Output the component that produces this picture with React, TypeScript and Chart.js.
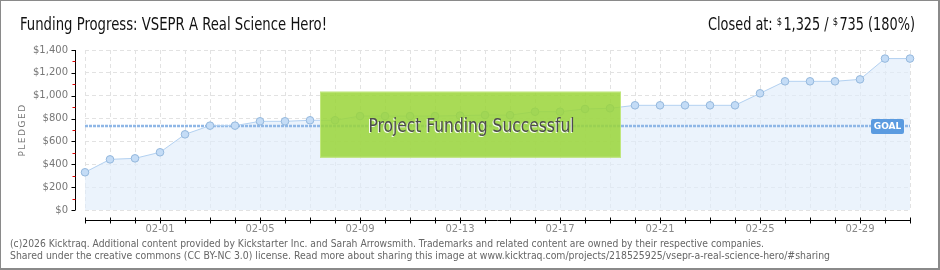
import { useEffect, useRef } from 'react';
import { Chart, registerables } from 'chart.js';

Chart.register(...registerables);

const dates = [
  '01-29', '01-30', '01-31',
  '02-01', '02-02', '02-03', '02-04', '02-05', '02-06', '02-07', '02-08',
  '02-09', '02-10', '02-11', '02-12', '02-13', '02-14', '02-15', '02-16',
  '02-17', '02-18', '02-19', '02-20', '02-21', '02-22', '02-23', '02-24',
  '02-25', '02-26', '02-27', '02-28', '02-29', '03-01', '03-02',
];

const pledged = [
  330, 443, 452, 505, 662, 738, 738, 776, 776, 785, 785, 822, 822, 822, 822, 826, 831,
  830, 860, 860, 884, 890, 916, 916, 916, 916, 916, 1021, 1126, 1126, 1126, 1143, 1325, 1325,
];

const goalValue = 735;
const goalLine = dates.map(() => goalValue);

const titleText = 'Funding Progress: VSEPR A Real Science Hero!';
const closedParts = ['Closed at: ', '$', '1,325 / ', '$', '735 (180%)'];
const overlayText = 'Project Funding Successful';
const footer1 =
  '(c)2026 Kicktraq. Additional content provided by Kickstarter Inc. and Sarah Arrowsmith. Trademarks and related content are owned by their respective companies.';
const footer2 =
  'Shared under the creative commons (CC BY-NC 3.0) license. Read more about sharing this image at www.kicktraq.com/projects/218525925/vsepr-a-real-science-hero/#sharing';

const TECH_FONT = '"DejaVu Sans Condensed", "Liberation Sans Narrow", "DejaVu Sans", sans-serif';

const decor = {
  id: 'decor',
  beforeDraw(chart: any) {
    const ctx = chart.ctx;
    ctx.save();
    ctx.fillStyle = '#8a8a8a';
    ctx.fillRect(0, 0, 940, 270);
    ctx.fillStyle = '#ffffff';
    ctx.fillRect(1, 1, 937, 267);
    ctx.restore();
  },
  afterDatasetsDraw(chart: any) {
    const ctx = chart.ctx;
    const x = chart.scales.x;
    const y = chart.scales.y;
    ctx.save();
    // success overlay
    const bx = x.getPixelForValue(9.4);
    const bx2 = x.getPixelForValue(21.44);
    const by = y.getPixelForValue(1035);
    const by2 = y.getPixelForValue(458);
    ctx.fillStyle = 'rgba(155, 213, 58, 0.86)';
    ctx.fillRect(bx, by, bx2 - bx, by2 - by);
    ctx.strokeStyle = 'rgba(195, 232, 130, 0.9)';
    ctx.lineWidth = 1;
    ctx.strokeRect(bx + 0.5, by + 0.5, bx2 - bx - 1, by2 - by - 1);
    ctx.font = `19px ${TECH_FONT}`;
    ctx.textAlign = 'center';
    ctx.textBaseline = 'alphabetic';
    const cx = (bx + bx2) / 2 + 1;
    const ty = by + 40;
    ctx.fillStyle = 'rgba(255,255,255,0.9)';
    ctx.fillText(overlayText, cx - 1, ty + 1, 206);
    ctx.fillStyle = '#4d4d4d';
    ctx.fillText(overlayText, cx, ty, 206);

    // GOAL label
    const gy = y.getPixelForValue(goalValue);
    const gx = chart.chartArea.right - 39;
    ctx.fillStyle = '#5b9be0';
    ctx.beginPath();
    (ctx as any).roundRect(gx, gy - 7, 33, 15, 2);
    ctx.fill();
    ctx.fillStyle = '#ffffff';
    ctx.font = 'bold 9px "DejaVu Sans", sans-serif';
    ctx.textAlign = 'center';
    ctx.textBaseline = 'middle';
    ctx.fillText('GOAL', gx + 16.5, gy + 0.5);
    ctx.restore();
  },
  afterDraw(chart: any) {
    const ctx = chart.ctx;
    const x = chart.scales.x;
    const y = chart.scales.y;
    const area = chart.chartArea;
    ctx.save();

    // title
    ctx.fillStyle = '#111';
    ctx.font = `17px ${TECH_FONT}`;
    ctx.textAlign = 'left';
    ctx.textBaseline = 'alphabetic';
    ctx.fillText(titleText, 20, 30, 307);

    // closed at (right aligned)
    const big = `17px ${TECH_FONT}`;
    const small = `11px ${TECH_FONT}`;
    const widths = closedParts.map((p, i) => {
      ctx.font = i % 2 === 1 ? small : big;
      return ctx.measureText(p).width + (i % 2 === 1 ? 1.5 : 0);
    });
    const total = widths.reduce((a, b) => a + b, 0);
    const scale = Math.min(1, 207 / total);
    let cxp = 915 - total * scale;
    closedParts.forEach((p, i) => {
      ctx.font = i % 2 === 1 ? small : big;
      ctx.save();
      ctx.translate(cxp, 0);
      ctx.scale(scale, 1);
      ctx.fillText(p, 0, i % 2 === 1 ? 25 : 30);
      ctx.restore();
      cxp += widths[i] * scale;
    });

    // y axis line & ticks
    const axX = 75.5;
    ctx.strokeStyle = '#000';
    ctx.lineWidth = 1;
    ctx.beginPath();
    ctx.moveTo(axX, area.top);
    ctx.lineTo(axX, area.bottom);
    ctx.stroke();
    y.ticks.forEach((t: any) => {
      const py = Math.round(y.getPixelForValue(t.value)) + 0.5;
      ctx.strokeStyle = '#000';
      ctx.beginPath();
      ctx.moveTo(axX - 4, py);
      ctx.lineTo(axX, py);
      ctx.stroke();
      if (t.value < y.max) {
        const my = Math.round(y.getPixelForValue(t.value + 100)) + 0.5;
        ctx.strokeStyle = '#e00000';
        ctx.beginPath();
        ctx.moveTo(axX - 3, my);
        ctx.lineTo(axX, my);
        ctx.stroke();
      }
    });

    // x axis line & ticks
    const axY = 220.5;
    ctx.strokeStyle = '#000';
    ctx.beginPath();
    ctx.moveTo(area.left, axY);
    ctx.lineTo(area.right, axY);
    ctx.stroke();
    for (let i = 0; i < dates.length; i++) {
      const px = Math.round(x.getPixelForValue(i)) + 0.5;
      ctx.beginPath();
      ctx.moveTo(px, axY - 3);
      ctx.lineTo(px, axY + 3);
      ctx.stroke();
    }

    // PLEDGED
    ctx.save();
    ctx.translate(25, (area.top + area.bottom) / 2);
    ctx.rotate(-Math.PI / 2);
    ctx.fillStyle = '#777';
    ctx.font = '9px "DejaVu Sans", sans-serif';
    (ctx as any).letterSpacing = '1.5px';
    ctx.textAlign = 'center';
    ctx.textBaseline = 'alphabetic';
    ctx.fillText('PLEDGED', 0, 0);
    ctx.restore();

    // footer
    ctx.fillStyle = '#666';
    ctx.font = '10px "DejaVu Sans", sans-serif';
    ctx.textAlign = 'left';
    ctx.textBaseline = 'alphabetic';
    ctx.fillText(footer1, 10, 247, 754);
    ctx.fillText(footer2, 10, 259, 820);
    ctx.restore();
  },
};

export default function App() {
  const ref = useRef<HTMLCanvasElement | null>(null);
  useEffect(() => {
    if (!ref.current) return;
    const chart = new Chart(ref.current, {
      type: 'line',
      data: {
        labels: dates,
        datasets: [
          {
            label: 'Pledged',
            data: pledged,
            order: 0,
            borderColor: '#b3d1f1',
            borderWidth: 1,
            backgroundColor: 'rgba(225, 236, 250, 0.65)',
            fill: 'origin',
            tension: 0,
            pointRadius: 3.8,
            pointBackgroundColor: '#c4dcf6',
            pointBorderColor: '#94b8dd',
            pointBorderWidth: 1,
          },
          {
            label: 'Goal',
            data: goalLine,
            order: 1,
            borderColor: '#8fb7e6',
            borderWidth: 2.5,
            borderDash: [3, 1],
            pointRadius: 0,
            fill: false,
          },
        ],
      },
      options: {
        animation: false,
        responsive: false,
        events: [],
        layout: { padding: { top: 50, right: 30, left: 0, bottom: 0 } },
        plugins: {
          legend: { display: false },
          title: { display: false },
          tooltip: { enabled: false },
          filler: { drawTime: 'beforeDatasetsDraw' },
        } as any,
        scales: {
          x: {
            type: 'category',
            offset: false,
            afterFit: (s: any) => {
              s.height = 60;
            },
            grid: { color: '#e2e2e2', drawTicks: false },
            border: { display: false, dash: [4, 3] },
            ticks: {
              autoSkip: false,
              maxRotation: 0,
              padding: 13,
              color: '#888',
              font: { family: '"DejaVu Sans", sans-serif', size: 10 },
              callback: (_v: any, i: number) => (i % 4 === 3 ? dates[i] : ''),
            },
          },
          y: {
            min: 0,
            max: 1400,
            afterFit: (s: any) => {
              s.width = 85;
            },
            grid: { color: '#e2e2e2', drawTicks: false },
            border: { display: false, dash: [4, 3] },
            ticks: {
              stepSize: 200,
              padding: 17,
              color: '#777',
              font: { family: '"DejaVu Sans", sans-serif', size: 10 },
              callback: (v: any) => '$' + Number(v).toLocaleString('en-US'),
            },
          },
        },
      },
      plugins: [decor],
    });
    return () => chart.destroy();
  }, []);
  return (
    <div style={{ position: 'absolute', left: 0, top: 0, width: 940, height: 270 }}>
      <canvas ref={ref} width={940} height={270} style={{ display: 'block' }} />
    </div>
  );
}
